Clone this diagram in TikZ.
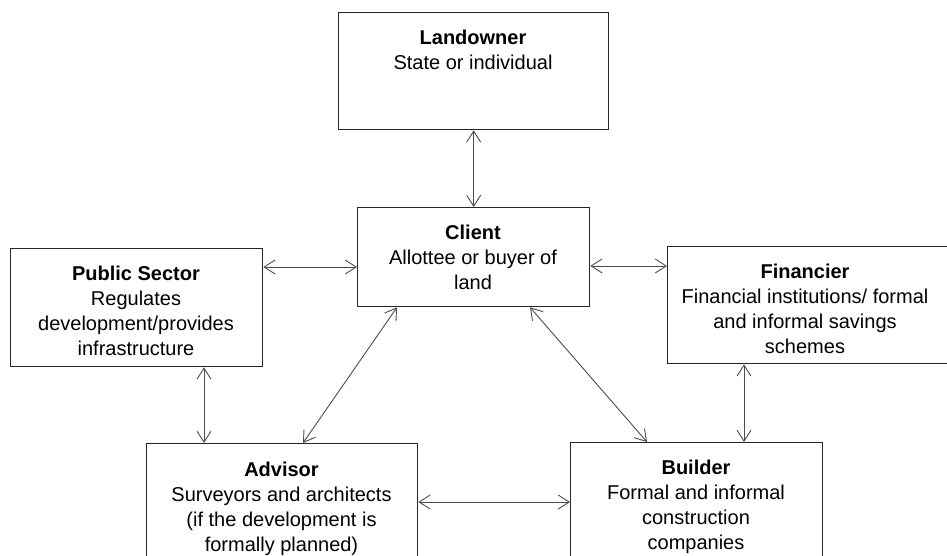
\documentclass[tikz,border=0pt]{standalone}
\usepackage{fontspec}
\setmainfont{Liberation Sans}
\usetikzlibrary{arrows.meta}
\begin{document}
\begin{tikzpicture}[x=1pt,y=-1pt,
  box/.style={draw=black!85,line width=1.3pt,rectangle,inner sep=0pt,anchor=north west},
  txt/.style={align=center,inner sep=0pt,anchor=north,font=\fontsize{20}{25}\selectfont},
  link/.style={draw=black!70,line width=0.9pt,{Straight Barb[length=11pt,width=14pt]}-{Straight Barb[length=11pt,width=14pt]}}]
\useasboundingbox (0,0) rectangle (947,555);
% boxes
\node[box,minimum width=270pt,minimum height=117pt] (landowner) at (338,12) {};
\node[box,minimum width=232pt,minimum height=99pt] (client) at (357,207) {};
\node[box,minimum width=252pt,minimum height=118pt] (public) at (10,248) {};
\node[box,minimum width=290pt,minimum height=117pt] (financier) at (667,246) {};
\node[box,minimum width=271pt,minimum height=130pt] (advisor) at (146,443) {};
\node[box,minimum width=252pt,minimum height=130pt] (builder) at (570,442) {};
% texts
\node[txt] (landownerT) at (473,28) {\rule{0pt}{16pt}\textbf{Landowner}\\State or individual};
\node[txt] (clientT) at (473,223) {\rule{0pt}{16pt}\textbf{Client}\\Allottee or buyer of\\land};
\node[txt] (publicT) at (136,264) {\rule{0pt}{16pt}\textbf{Public Sector}\\Regulates\\development/provides\\infrastructure};
\node[txt] (financierT) at (805,262) {\rule{0pt}{16pt}\textbf{Financier}\\Financial institutions/ formal\\and informal savings\\schemes};
\node[txt] (advisorT) at (281.5,460) {\rule{0pt}{16pt}\textbf{Advisor}\\Surveyors and architects\\(if the development is\\formally planned)};
\node[txt] (builderT) at (696,458) {\rule{0pt}{16pt}\textbf{Builder}\\Formal and informal\\construction\\companies};
% connectors
\draw[link] (landowner.south) -- (client.north);
\draw[link] ([yshift=-19pt]public.north east) coordinate (pc) -- (pc -| client.west);
\draw[link] ([yshift=-59pt]client.north east) coordinate (cf) -- (cf -| financier.west);
\draw[link] ([xshift=194pt]public.south west) coordinate (pa) -- (pa |- advisor.north);
\draw[link] ([xshift=77pt]financier.south west) coordinate (fb) -- (fb |- builder.north);
\draw[link] ([yshift=-59pt]advisor.north east) coordinate (ab) -- (ab -| builder.west);
\draw[link] ([xshift=40pt]client.south west) -- ([xshift=157pt]advisor.north west);
\draw[link] ([xshift=173pt]client.south west) -- ([xshift=77pt]builder.north west);
\end{tikzpicture}
\end{document}
